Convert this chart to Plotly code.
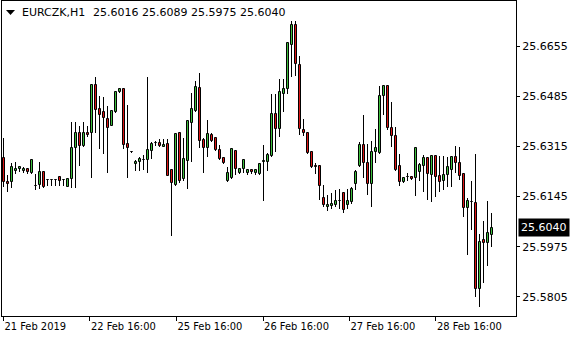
import plotly.graph_objects as go

SYMBOL = "EURCZK,H1"

OPEN = [25.6276, 25.6194, 25.6193, 25.6232, 25.6238, 25.6233, 25.6238, 25.6226, 25.6181, 25.6184,
        25.6227, 25.6200, 25.6200, 25.6200, 25.6210, 25.6200, 25.6179, 25.6204, 25.6311, 25.6362,
        25.6317, 25.6362, 25.6359, 25.6523, 25.6441, 25.6430, 25.6409, 25.6385, 25.6430, 25.6498,
        25.6510, 25.6322, 25.6295, 25.6254, 25.6263, 25.6268, 25.6269, 25.6300, 25.6326, 25.6328,
        25.6314, 25.6322, 25.6235, 25.6184, 25.6359, 25.6204, 25.6267, 25.6396, 25.6436, 25.6512,
        25.6336, 25.6308, 25.6355, 25.6342, 25.6303, 25.6276, 25.6199, 25.6207, 25.6300, 25.6224,
        25.6238, 25.6224, 25.6235, 25.6224, 25.6220, 25.6262, 25.6261, 25.6284, 25.6424, 25.6375,
        25.6494, 25.6511, 25.6660, 25.6726, 25.6590, 25.6370, 25.6362, 25.6295, 25.6249, 25.6249,
        25.6140, 25.6111, 25.6112, 25.6118, 25.6129, 25.6158, 25.6118, 25.6128, 25.6189, 25.6249,
        25.6321, 25.6258, 25.6186, 25.6295, 25.6291, 25.6486, 25.6520, 25.6376, 25.6350, 25.6249,
        25.6195, 25.6210, 25.6212, 25.6207, 25.6229, 25.6250, 25.6275, 25.6218, 25.6283, 25.6214,
        25.6199, 25.6219, 25.6235, 25.6279, 25.6258, 25.6220, 25.6107, 25.6126, 25.6122, 25.5831,
        25.5997, 25.5986, 25.6016]
HIGH = [25.6343, 25.6218, 25.6258, 25.6262, 25.6249, 25.6246, 25.6241, 25.6272, 25.6221, 25.6261,
        25.6229, 25.6201, 25.6201, 25.6201, 25.6213, 25.6201, 25.6206, 25.6397, 25.6397, 25.6385,
        25.6397, 25.6385, 25.6528, 25.6551, 25.6486, 25.6481, 25.6452, 25.6440, 25.6501, 25.6511,
        25.6513, 25.6455, 25.6296, 25.6269, 25.6280, 25.6286, 25.6551, 25.6331, 25.6334, 25.6340,
        25.6341, 25.6341, 25.6239, 25.6362, 25.6364, 25.6345, 25.6406, 25.6496, 25.6537, 25.6563,
        25.6344, 25.6404, 25.6359, 25.6345, 25.6321, 25.6278, 25.6246, 25.6308, 25.6303, 25.6241,
        25.6271, 25.6240, 25.6238, 25.6238, 25.6258, 25.6319, 25.6292, 25.6492, 25.6492, 25.6544,
        25.6542, 25.6668, 25.6740, 25.6741, 25.6622, 25.6409, 25.6364, 25.6300, 25.6259, 25.6252,
        25.6184, 25.6150, 25.6157, 25.6167, 25.6169, 25.6162, 25.6170, 25.6177, 25.6234, 25.6329,
        25.6420, 25.6324, 25.6335, 25.6375, 25.6520, 25.6523, 25.6523, 25.6466, 25.6381, 25.6289,
        25.6212, 25.6226, 25.6214, 25.6313, 25.6258, 25.6286, 25.6280, 25.6286, 25.6286, 25.6283,
        25.6283, 25.6280, 25.6283, 25.6316, 25.6313, 25.6224, 25.6139, 25.6199, 25.6289, 25.6017,
        25.6063, 25.6131, 25.6089]
LOW = [25.6177, 25.6162, 25.6173, 25.6220, 25.6229, 25.6224, 25.6221, 25.6221, 25.6167, 25.6170,
       25.6175, 25.6181, 25.6181, 25.6181, 25.6181, 25.6182, 25.6177, 25.6174, 25.6175, 25.6250,
       25.6312, 25.6346, 25.6209, 25.6361, 25.6306, 25.6288, 25.6226, 25.6384, 25.6428, 25.6496,
       25.6306, 25.6209, 25.6294, 25.6233, 25.6233, 25.6235, 25.6226, 25.6272, 25.6316, 25.6312,
       25.6312, 25.6213, 25.6012, 25.6181, 25.6191, 25.6199, 25.6172, 25.6263, 25.6433, 25.6308,
       25.6226, 25.6278, 25.6330, 25.6300, 25.6269, 25.6255, 25.6195, 25.6204, 25.6218, 25.6221,
       25.6226, 25.6219, 25.6220, 25.6219, 25.6218, 25.6131, 25.6233, 25.6280, 25.6297, 25.6346,
       25.6433, 25.6492, 25.6550, 25.6554, 25.6352, 25.6350, 25.6289, 25.6241, 25.6221, 25.6133,
       25.6111, 25.6096, 25.6104, 25.6110, 25.6104, 25.6089, 25.6104, 25.6121, 25.6167, 25.6245,
       25.6208, 25.6150, 25.6109, 25.6258, 25.6289, 25.6421, 25.6370, 25.6313, 25.6233, 25.6181,
       25.6192, 25.6199, 25.6201, 25.6147, 25.6199, 25.6161, 25.6135, 25.6127, 25.6144, 25.6161,
       25.6167, 25.6178, 25.6178, 25.6224, 25.6201, 25.6074, 25.5947, 25.6031, 25.5805, 25.5769,
       25.5851, 25.5911, 25.5975]
CLOSE = [25.6194, 25.6189, 25.6244, 25.6239, 25.6244, 25.6239, 25.6227, 25.6269, 25.6180, 25.6227,
         25.6178, 25.6200, 25.6200, 25.6200, 25.6199, 25.6200, 25.6204, 25.6311, 25.6362, 25.6317,
         25.6362, 25.6353, 25.6523, 25.6440, 25.6423, 25.6413, 25.6379, 25.6434, 25.6498, 25.6508,
         25.6321, 25.6311, 25.6295, 25.6263, 25.6272, 25.6269, 25.6303, 25.6324, 25.6326, 25.6315,
         25.6319, 25.6216, 25.6192, 25.6356, 25.6199, 25.6271, 25.6401, 25.6441, 25.6515, 25.6334,
         25.6308, 25.6356, 25.6334, 25.6303, 25.6272, 25.6258, 25.6224, 25.6305, 25.6238, 25.6238,
         25.6268, 25.6235, 25.6227, 25.6235, 25.6255, 25.6265, 25.6285, 25.6424, 25.6375, 25.6498,
         25.6510, 25.6664, 25.6726, 25.6596, 25.6373, 25.6361, 25.6294, 25.6244, 25.6245, 25.6182,
         25.6118, 25.6118, 25.6119, 25.6130, 25.6129, 25.6101, 25.6129, 25.6170, 25.6228, 25.6321,
         25.6260, 25.6186, 25.6296, 25.6309, 25.6485, 25.6520, 25.6376, 25.6351, 25.6235, 25.6195,
         25.6209, 25.6210, 25.6204, 25.6308, 25.6252, 25.6275, 25.6220, 25.6283, 25.6212, 25.6195,
         25.6218, 25.6244, 25.6279, 25.6258, 25.6216, 25.6105, 25.6130, 25.6126, 25.5831, 25.5991,
         25.5986, 25.6020, 25.6040]

BARS = list(range(len(OPEN)))
TIME_TICK_BARS = [0, 21.6, 43.25, 64.9, 86.5, 108.1]
TIME_TICK_LABELS = ["21 Feb 2019", "22 Feb 16:00", "25 Feb 16:00",
                    "26 Feb 16:00", "27 Feb 16:00", "28 Feb 16:00"]
PRICE_TICKS = [25.5805, 25.5975, 25.6145, 25.6315, 25.6485, 25.6655]

FONT = "DejaVu Sans"
UP_COLOR = "#3CBE3C"
DOWN_COLOR = "#DC1414"
W, H = 580, 340
ML, MR, MT, MB = 2, 64, 1, 24
PW, PH = W - ML - MR, H - MT - MB


def px(x):
    return (x - ML) / PW


def py(y):
    return (H - MB - y) / PH


body_base = [min(o, c) for o, c in zip(OPEN, CLOSE)]
body_len = [max(abs(c - o), 1e-7) for o, c in zip(OPEN, CLOSE)]
body_col = [UP_COLOR if c > o else DOWN_COLOR for o, c in zip(OPEN, CLOSE)]
wick_len = [h - l for h, l in zip(HIGH, LOW)]

fig = go.Figure()
# wicks
fig.add_trace(go.Bar(
    x=BARS, y=wick_len, base=LOW, width=0.25,
    marker=dict(color="black", line=dict(width=0)),
    hoverinfo="skip", showlegend=False,
))
# bodies
fig.add_trace(go.Bar(
    x=BARS, y=body_len, base=body_base, width=0.5,
    marker=dict(color=body_col, line=dict(color="black", width=1)),
    customdata=list(zip(OPEN, HIGH, LOW, CLOSE)),
    hovertemplate="O %{customdata[0]:.4f}<br>H %{customdata[1]:.4f}<br>"
                  "L %{customdata[2]:.4f}<br>C %{customdata[3]:.4f}<extra></extra>",
    showlegend=False,
))

last = len(CLOSE) - 1
header = " ".join(f"{v:.4f}" for v in (OPEN[last], HIGH[last], LOW[last], CLOSE[last]))

fig.update_layout(
    width=W, height=H,
    margin=dict(l=ML, r=MR, t=MT, b=MB),
    paper_bgcolor="white", plot_bgcolor="white",
    font=dict(family=FONT, size=11, color="black"),
    showlegend=False,
    barmode="overlay", bargap=0, bargroupgap=0,
    xaxis=dict(
        range=[-0.375, 128.125],
        tickvals=TIME_TICK_BARS, ticktext=TIME_TICK_LABELS,
        ticks="outside", ticklen=4, tickcolor="black", tickwidth=1,
        ticklabelposition="outside right",
        showline=True, linecolor="black", linewidth=1, mirror=True,
        showgrid=False, zeroline=False,
        tickfont=dict(family="DejaVu Sans Condensed, DejaVu Sans", size=11, color="black"),
    ),
    yaxis=dict(
        side="right", range=[25.5740, 25.6808],
        tickvals=PRICE_TICKS, ticktext=[f"{v:.4f}" for v in PRICE_TICKS],
        ticks="outside", ticklen=3, tickcolor="black", tickwidth=1,
        showline=True, linecolor="black", linewidth=1, mirror=True,
        showgrid=False, zeroline=False,
        tickfont=dict(family=FONT, size=11, color="black"),
    ),
    shapes=[dict(
        type="path", xref="paper", yref="paper",
        path=f"M {px(6)} {py(10)} L {px(15)} {py(10)} L {px(10.5)} {py(15)} Z",
        fillcolor="black", line=dict(width=0),
    )],
    annotations=[
        dict(xref="paper", yref="paper", x=px(20), y=py(12.5), xanchor="left", yanchor="middle",
             text=SYMBOL, showarrow=False, font=dict(family=FONT, size=11, color="black")),
        dict(xref="paper", yref="paper", x=px(91), y=py(12.5), xanchor="left", yanchor="middle",
             text=header, showarrow=False, font=dict(family=FONT, size=11, color="black")),
        dict(xref="paper", yref="y", x=1, y=CLOSE[last], xanchor="left", yanchor="middle",
             xshift=2, text=f"{CLOSE[last]:.4f}", showarrow=False, bgcolor="black",
             borderpad=2, font=dict(family=FONT, size=11, color="white")),
    ],
)

fig.write_html("out.html")
